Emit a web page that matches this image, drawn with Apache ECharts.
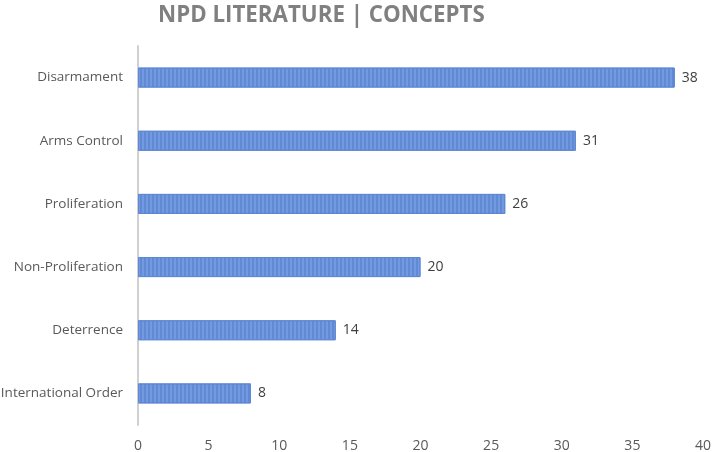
<!DOCTYPE html>
<html><head><meta charset="utf-8">
<script src="https://cdn.jsdelivr.net/npm/echarts@6/dist/echarts.min.js"></script>
<style>html,body{margin:0;padding:0;background:#fff}#c{width:716px;height:452px}</style>
</head><body><div id="c"></div>
<script>
const categories = ['International Order','Deterrence','Non-Proliferation','Proliferation','Arms Control','Disarmament'];
const values = [8,14,20,26,31,38];
const xTicks = [0,5,10,15,20,25,30,35,40];
const titleText = 'NPD LITERATURE | CONCEPTS';

const chart = echarts.init(document.getElementById('c'));
chart.setOption({
  animation:false,
  title:{text:titleText,left:153,top:0,textStyle:{fontFamily:'Open Sans',fontSize:22.3,fontWeight:'bold',color:'#808080'}},
  grid:{left:138,right:13,top:46,bottom:27,containLabel:false,outerBoundsMode:'none'},
  xAxis:{type:'value',min:xTicks[0],max:xTicks[xTicks.length-1],interval:5,
    axisLine:{show:false},axisTick:{show:false},splitLine:{show:false},
    axisLabel:{color:'#595959',fontFamily:'Open Sans',fontSize:14,margin:14}},
  yAxis:{type:'category',data:categories,
    axisLine:{show:true,lineStyle:{color:'#d0d0d0',width:2}},axisTick:{show:false},
    axisLabel:{color:'#595959',fontFamily:'Open Sans',fontSize:13.5,margin:15}},
  series:[{type:'bar',data:values,barWidth:20,
    itemStyle:{color:'#7399e0',borderColor:'#6088d6',borderWidth:1,
      decal:{symbol:'rect',symbolSize:1,dashArrayX:[[2,2]],dashArrayY:[20,0],color:'rgba(68,114,196,0.4)',rotation:0}},
    label:{show:true,position:'right',distance:7,color:'#404040',fontFamily:'Open Sans',fontSize:14}}]
});
</script></body></html>
